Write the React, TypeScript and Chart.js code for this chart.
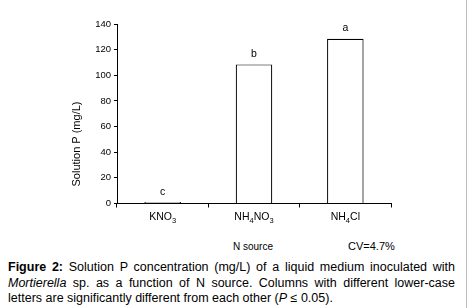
import React, { useEffect, useRef } from "react";
import { Chart, registerables } from "chart.js";

Chart.register(...registerables);

const categories = ["KNO3", "NH4NO3", "NH4Cl"];
// label parts: [text, isSubscript]
const categoryParts: [string, boolean][][] = [
  [["KNO", false], ["3", true]],
  [["NH", false], ["4", true], ["NO", false], ["3", true]],
  [["NH", false], ["4", true], ["Cl", false]],
];
const solutionP = [1.2, 108.5, 128.5];
const letters = ["c", "b", "a"];
const yTicks = [0, 20, 40, 60, 80, 100, 120, 140];
const yTitle = "Solution P (mg/L)";

const FONT = "'Liberation Sans', Arial, sans-serif";

const customPlugin = {
  id: "custom",
  afterDraw(chart: any) {
    const ctx = chart.ctx;
    const meta = chart.getDatasetMeta(0);
    const xScale = chart.scales.x;
    ctx.save();
    ctx.fillStyle = "#000";
    // significance letters
    ctx.font = `10.5px ${FONT}`;
    ctx.textAlign = "center";
    ctx.textBaseline = "bottom";
    meta.data.forEach((bar: any, i: number) => {
      ctx.fillText(letters[i], bar.x, bar.y - 5);
    });
    // x category labels with subscripts
    ctx.textBaseline = "alphabetic";
    ctx.textAlign = "left";
    const mainFont = `10.5px ${FONT}`;
    const subFont = `7.5px ${FONT}`;
    const baseY = xScale.top + 16.5;
    categoryParts.forEach((parts, i) => {
      let w = 0;
      parts.forEach(([t, sub]) => {
        ctx.font = sub ? subFont : mainFont;
        w += ctx.measureText(t).width;
      });
      let x = xScale.getPixelForValue(i) - w / 2;
      parts.forEach(([t, sub]) => {
        ctx.font = sub ? subFont : mainFont;
        ctx.fillText(t, x, sub ? baseY + 2.5 : baseY);
        x += ctx.measureText(t).width;
      });
    });
    // y-axis title
    ctx.font = `11px ${FONT}`;
    ctx.textAlign = "center";
    ctx.textBaseline = "middle";
    ctx.translate(77, 144);
    ctx.rotate(-Math.PI / 2);
    ctx.fillText(yTitle, 0, 0);
    ctx.restore();
  },
};

export default function App() {
  const ref = useRef<HTMLCanvasElement>(null);
  useEffect(() => {
    const chart = new Chart(ref.current!, {
      type: "bar",
      data: {
        labels: categories,
        datasets: [
          {
            data: solutionP,
            backgroundColor: "#ffffff",
            borderColor: "#000000",
            borderWidth: 1.2,
            categoryPercentage: 1,
            barPercentage: 0.4,
          },
        ],
      },
      options: {
        animation: false,
        responsive: false,
        maintainAspectRatio: false,
        layout: { padding: { top: 24, right: 76, bottom: 6.5, left: 0 } },
        plugins: { legend: { display: false }, tooltip: { enabled: false } },
        scales: {
          x: {
            type: "category",
            offset: true,
            grid: {
              display: true,
              drawOnChartArea: false,
              offset: true,
              tickLength: 4,
              color: "#000",
            },
            border: { display: true, color: "#000", width: 1 },
            ticks: { display: false },
            afterFit(scale: any) {
              scale.height = 20;
            },
          },
          y: {
            min: 0,
            max: 140,
            afterBuildTicks(scale: any) {
              scale.ticks = yTicks.map((v) => ({ value: v }));
            },
            grid: {
              display: true,
              drawOnChartArea: false,
              tickLength: 3,
              color: "#000",
            },
            border: { display: true, color: "#000", width: 1 },
            ticks: { color: "#000", padding: 3, font: { family: FONT, size: 9.5 } },
            afterFit(scale: any) {
              scale.width = 117;
            },
          },
        },
      },
      plugins: [customPlugin],
    });
    return () => chart.destroy();
  }, []);

  return (
    <div
      style={{
        position: "fixed",
        left: 0,
        top: 0,
        width: 466,
        height: 308,
        borderRight: "1px solid #bdbdbd",
        background: "#fff",
        fontFamily: FONT,
        color: "#000",
        overflow: "hidden",
      }}
    >
      <canvas ref={ref} width={467} height={230} style={{ position: "absolute", left: 0, top: 0 }} />
      <div style={{ position: "absolute", left: 233, top: 241, fontSize: 10, lineHeight: "12px" }}>N source</div>
      <div style={{ position: "absolute", left: 348, top: 240, fontSize: 11, lineHeight: "13px" }}>CV=4.7%</div>
      <div
        style={{
          position: "absolute",
          left: 8,
          top: 260,
          width: 447,
          fontSize: 12.5,
          lineHeight: "15.5px",
          textAlign: "justify",
        }}
      >
        <b>Figure 2:</b> Solution P concentration (mg/L) of a liquid medium inoculated with{" "}
        <i>Mortierella</i> sp. as a function of N source. Columns with different lower-case letters are
        significantly different from each other (<i>P</i> ≤ 0.05).
      </div>
    </div>
  );
}
